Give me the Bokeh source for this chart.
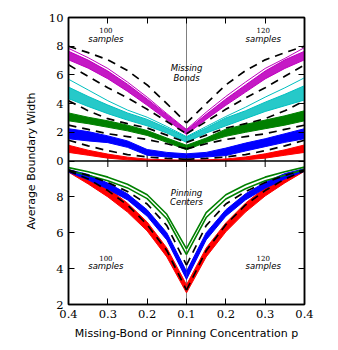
import numpy as np
from bokeh.plotting import figure
from bokeh.models import Range1d, LinearAxis, FixedTicker, Span, Label
from bokeh.embed import file_html
from bokeh.resources import INLINE

# ---------------- data ----------------
# concentrations: left half = 100 samples, right half = 120 samples
P_LEFT = [0.4, 0.35, 0.3, 0.25, 0.2, 0.15, 0.1]
P_RIGHT = [0.1, 0.15, 0.2, 0.25, 0.3, 0.35, 0.4]
P_CENTER = 0.1

TICK_P = [0.4, 0.3, 0.2, 0.1, 0.2, 0.3, 0.4]
TICK_SIDE = [-1, -1, -1, 0, 1, 1, 1]
TOP_TICKS = [0, 2, 4, 6, 8, 10]
BOT_TICKS = [2, 4, 6, 8]
TOP_LIMITS = (0, 10)
BOT_LIMITS = (2, 10)

# Missing bonds (top panel): bundle lower / upper edges, outlier curves
MB_MAG_L_LO = [7.05, 6.47, 5.73, 4.85, 3.88, 2.87, 1.85]
MB_MAG_L_HI = [7.65, 7.03, 6.27, 5.35, 4.32, 3.23, 2.15]
MB_MAG_L_OUT = [7.85, 7.2, 6.45, 5.5, 4.45, 3.3, 2.2]
MB_MAG_R_LO = [1.85, 2.9, 3.88, 4.8, 5.72, 6.45, 7.05]
MB_MAG_R_HI = [2.15, 3.25, 4.32, 5.3, 6.27, 7.05, 7.65]
MB_MAG_R_OUT = [2.2, 3.4, 4.5, 5.5, 6.45, 7.15, 7.9]

MB_CYA_L_LO = [4.35, 3.8, 3.3, 2.85, 2.45, 1.95, 1.3]
MB_CYA_L_HI = [5.15, 4.5, 3.9, 3.35, 2.9, 2.3, 1.65]
MB_CYA_L_OUT = [5.7, 4.95, 4.2, 3.55, 3.05, 2.4, 1.7]
MB_CYA_R_LO = [1.3, 1.95, 2.45, 2.95, 3.45, 3.85, 4.25]
MB_CYA_R_HI = [1.65, 2.3, 3.0, 3.5, 4.1, 4.65, 5.25]
MB_CYA_R_OUT = [1.7, 2.4, 3.1, 3.75, 4.45, 5.1, 5.8]

MB_GRN_L_LO = [2.8, 2.6, 2.35, 2.1, 1.78, 1.3, 0.78]
MB_GRN_L_HI = [3.35, 3.05, 2.8, 2.5, 2.12, 1.6, 1.1]
MB_GRN_R_LO = [0.78, 1.3, 1.72, 2.0, 2.25, 2.5, 2.8]
MB_GRN_R_HI = [1.1, 1.6, 2.22, 2.55, 2.85, 3.15, 3.5]

MB_BLU_L_LO = [1.55, 1.4, 1.28, 0.95, 0.4, 0.28, 0.2]
MB_BLU_L_HI = [2.25, 2.05, 1.75, 1.4, 0.8, 0.6, 0.5]
MB_BLU_R_LO = [0.2, 0.28, 0.38, 0.7, 1.0, 1.3, 1.55]
MB_BLU_R_HI = [0.5, 0.6, 0.9, 1.25, 1.55, 1.9, 2.25]

MB_RED_L_LO = [0.6, 0.4, 0.2, 0.08, 0.02, 0.0, 0.0]
MB_RED_L_HI = [1.1, 0.75, 0.48, 0.27, 0.13, 0.08, 0.06]
MB_RED_R_LO = [0.0, 0.0, 0.02, 0.08, 0.2, 0.4, 0.6]
MB_RED_R_HI = [0.06, 0.08, 0.14, 0.28, 0.5, 0.78, 1.12]

# theory (dashed), values at P_LEFT, mirrored on the right
MB_THEORY_1 = [8.0, 7.55, 7.05, 6.3, 5.3, 4.0, 2.65]
MB_THEORY_2 = [6.7, 5.9, 5.1, 4.4, 3.6, 2.75, 1.9]
MB_THEORY_3 = [4.2, 3.5, 2.95, 2.6, 2.3, 1.8, 1.3]
MB_THEORY_4 = [2.5, 2.2, 1.9, 1.7, 1.5, 1.2, 0.85]
MB_THEORY_5 = [1.45, 1.05, 0.72, 0.45, 0.28, 0.18, 0.12]

# Pinning centers (bottom panel)
PC_GRN_L_LO = [9.47, 9.2, 8.9, 8.5, 7.9, 6.78, 4.78]
PC_GRN_L_HI = [9.63, 9.4, 9.1, 8.7, 8.12, 7.03, 5.1]
PC_GRN_R_LO = [4.8, 6.85, 7.88, 8.45, 8.9, 9.2, 9.52]
PC_GRN_R_HI = [5.12, 7.12, 8.12, 8.68, 9.1, 9.4, 9.66]

PC_BLU_L_LO = [9.38, 8.95, 8.43, 7.83, 6.92, 5.6, 3.4]
PC_BLU_L_HI = [9.52, 9.25, 8.77, 8.17, 7.28, 6.0, 3.85]
PC_BLU_R_LO = [3.4, 5.6, 6.92, 7.83, 8.48, 9.0, 9.43]
PC_BLU_R_HI = [3.85, 6.0, 7.28, 8.17, 8.82, 9.3, 9.57]

PC_RED_L_LO = [9.38, 8.72, 8.0, 7.15, 6.1, 4.65, 2.65]
PC_RED_L_HI = [9.52, 9.15, 8.5, 7.65, 6.6, 5.15, 3.1]
PC_RED_R_LO = [2.65, 4.65, 6.05, 7.15, 8.05, 8.78, 9.43]
PC_RED_R_HI = [3.1, 5.15, 6.55, 7.65, 8.52, 9.2, 9.57]

PC_THEORY_1 = [9.5, 9.2, 8.8, 8.3, 7.6, 6.4, 4.2]
PC_THEORY_2 = [9.45, 9.0, 8.35, 7.55, 6.45, 5.0, 2.8]

MAGENTA = "#bf00bf"
CYAN = "#00bfbf"
GREEN = "#008000"
BLUE = "#0000ff"
RED = "#ff0000"

# ---------------- coordinates ----------------
XL = [round(-(p - P_CENTER), 4) for p in P_LEFT]
XR = [round(p - P_CENTER, 4) for p in P_RIGHT]
X_TICKS = [round(s * (p - P_CENTER), 4) for p, s in zip(TICK_P, TICK_SIDE)]

t0, t1 = TOP_LIMITS
b0, b1 = BOT_LIMITS
top_range = Range1d(t0 - (t1 - t0), t1)
bot_range = Range1d(b0, b1 + (b1 - b0))


def bot_to_top(v):
    return round(top_range.start + (v - b0) * (t1 - t0) / (b1 - b0), 4)


Y_TICKS = list(TOP_TICKS) + [bot_to_top(v) for v in BOT_TICKS]
Y_OVERRIDES = {bot_to_top(v): str(v) for v in BOT_TICKS}

p = figure(width=330, height=342, x_range=Range1d(-0.3, 0.3), y_range=top_range,
           min_border_left=68, min_border_right=26, min_border_top=17,
           min_border_bottom=38, output_backend="svg", toolbar_location=None)
p.extra_y_ranges = {"bot": bot_range}
p.grid.visible = False
p.outline_line_color = "black"
p.outline_line_width = 1.5
p.background_fill_color = "white"
p.border_fill_color = "white"

p.add_layout(LinearAxis(), "right")
p.add_layout(LinearAxis(), "above")

TICK_FONT = "DejaVu Serif"
for ax in p.left + p.right:
    ax.ticker = FixedTicker(ticks=Y_TICKS)
    ax.major_label_overrides = Y_OVERRIDES
for ax in p.below + p.above:
    ax.ticker = FixedTicker(ticks=X_TICKS)
    ax.major_label_overrides = {x: f"{tp:.1f}" for x, tp in zip(X_TICKS, TICK_P)}
for ax in p.left + p.right + p.below + p.above:
    ax.major_tick_in = 6
    ax.major_tick_out = 0
    ax.minor_tick_line_color = None
    ax.axis_line_width = 1.5
    ax.axis_line_color = "black"
    ax.major_tick_line_color = "black"
    ax.major_tick_line_width = 1
    ax.major_label_text_font = TICK_FONT
    ax.major_label_text_font_size = "11.5px"
    ax.major_label_text_color = "black"
    ax.major_label_standoff = 5
for ax in p.right + p.above:
    # tick marks only, no labels on the mirrored axes
    ax.major_label_text_color = None
    ax.major_label_text_font_size = "1px"
    ax.major_label_standoff = 0

yl = p.left[0]
yl.axis_label = "Average Boundary Width"
yl.axis_label_standoff = 8
xb = p.below[0]
xb.axis_label = "Missing-Bond or Pinning Concentration p"
xb.axis_label_standoff = 6
for ax in (yl, xb):
    ax.axis_label_text_font = "DejaVu Sans"
    ax.axis_label_text_font_size = "11px"
    ax.axis_label_text_font_style = "normal"
    ax.axis_label_text_color = "black"

# vertical guide at p = 0.1 and panel separator
p.add_layout(Span(location=0, dimension="height", line_color="#808080",
                  line_width=1, level="underlay"))
p.add_layout(Span(location=0, dimension="width", line_color="black", line_width=1.6))
# inward ticks on the shared panel edge
mid_x = [x for x in X_TICKS if abs(x) < 0.29]
p.scatter(x=mid_x, y=[0] * len(mid_x), marker="dash", angle=np.pi / 2, size=12,
          line_color="black", line_width=1)


def band(x, lo, hi, color, rng="default", edge=1.0, fill=True, alpha=1.0):
    if fill:
        p.varea(x=x, y1=lo, y2=hi, fill_color=color, fill_alpha=alpha, y_range_name=rng)
    p.line(x, lo, line_color=color, line_width=edge, y_range_name=rng)
    p.line(x, hi, line_color=color, line_width=edge, y_range_name=rng)


# ---- top panel: missing bonds ----
band(XL, MB_MAG_L_LO, MB_MAG_L_HI, MAGENTA, alpha=0.9)
band(XR, MB_MAG_R_LO, MB_MAG_R_HI, MAGENTA, alpha=0.9)
p.line(XL, MB_MAG_L_OUT, line_color=MAGENTA, line_width=1)
p.line(XR, MB_MAG_R_OUT, line_color=MAGENTA, line_width=1)
band(XL, MB_CYA_L_LO, MB_CYA_L_HI, CYAN, alpha=0.85)
band(XR, MB_CYA_R_LO, MB_CYA_R_HI, CYAN, alpha=0.85)
p.line(XL, MB_CYA_L_OUT, line_color=CYAN, line_width=1)
p.line(XR, MB_CYA_R_OUT, line_color=CYAN, line_width=1)
band(XL, MB_GRN_L_LO, MB_GRN_L_HI, GREEN)
band(XR, MB_GRN_R_LO, MB_GRN_R_HI, GREEN)
band(XL, MB_BLU_L_LO, MB_BLU_L_HI, BLUE)
band(XR, MB_BLU_R_LO, MB_BLU_R_HI, BLUE)
band(XL, MB_RED_L_LO, MB_RED_L_HI, RED)
band(XR, MB_RED_R_LO, MB_RED_R_HI, RED)

DASH = dict(line_color="black", line_width=1.7, line_dash="8 6")
for th in [MB_THEORY_1, MB_THEORY_2, MB_THEORY_3, MB_THEORY_4, MB_THEORY_5]:
    p.line(XL, th, **DASH)
    p.line(XR, th[::-1], **DASH)

# ---- bottom panel: pinning centers ----
band(XL, PC_RED_L_LO, PC_RED_L_HI, RED, "bot")
band(XR, PC_RED_R_LO, PC_RED_R_HI, RED, "bot")
band(XL, PC_BLU_L_LO, PC_BLU_L_HI, BLUE, "bot")
band(XR, PC_BLU_R_LO, PC_BLU_R_HI, BLUE, "bot")
band(XL, PC_GRN_L_LO, PC_GRN_L_HI, GREEN, "bot", edge=1.6, fill=False)
band(XR, PC_GRN_R_LO, PC_GRN_R_HI, GREEN, "bot", edge=1.6, fill=False)
for th in [PC_THEORY_1, PC_THEORY_2]:
    p.line(XL, th, y_range_name="bot", **DASH)
    p.line(XR, th[::-1], y_range_name="bot", **DASH)

# ---- annotations ----
def note(x, y, text, rng="default", serif=False, size="8.5px"):
    p.add_layout(Label(x=x, y=y, text=text, y_range_name=rng,
                       text_font="DejaVu Serif" if serif else "DejaVu Sans",
                       text_font_style="normal" if serif else "italic",
                       text_font_size=size, text_align="center",
                       text_baseline="middle", text_color="black"))


note(-0.205, 9.1, "100", serif=True, size="7px")
note(-0.205, 8.47, "samples")
note(0.195, 9.1, "120", serif=True, size="7px")
note(0.195, 8.47, "samples")
note(0, 6.45, "Missing")
note(0, 5.75, "Bonds")
note(0, 8.24, "Pinning", "bot")
note(0, 7.74, "Centers", "bot")
note(-0.205, 4.62, "100", "bot", serif=True, size="7px")
note(-0.205, 4.12, "samples", "bot")
note(0.195, 4.62, "120", "bot", serif=True, size="7px")
note(0.195, 4.12, "samples", "bot")

open("out.html", "w").write(file_html(p, INLINE))
